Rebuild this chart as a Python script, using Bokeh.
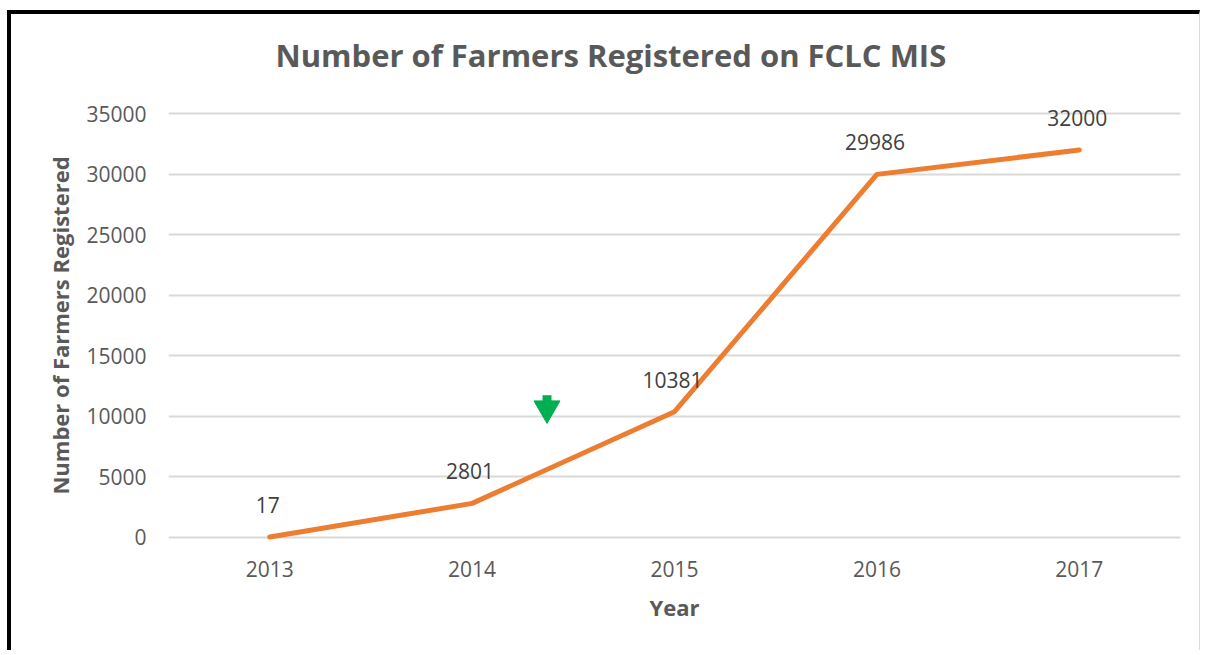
from bokeh.plotting import figure
from bokeh.models import ColumnDataSource, Range1d, FixedTicker, LabelSet
from bokeh.core.properties import value
from bokeh.embed import file_html
from bokeh.resources import INLINE

years = ["2013", "2014", "2015", "2016", "2017"]
farmers = [17, 2801, 10381, 29986, 32000]
y_ticks = [0, 5000, 10000, 15000, 20000, 25000, 30000, 35000]
arrow_x = [1.37]
arrow_y = [10650]
arrow_stem_y = [11450]

idx = list(range(len(years)))
src = ColumnDataSource(dict(x=idx, y=farmers, label=[str(v) for v in farmers]))

p = figure(width=1193, height=640, output_backend="svg", toolbar_location=None,
           x_range=Range1d(-0.5, 4.5), y_range=Range1d(-2000, 37000),
           title="Number of Farmers Registered on FCLC MIS",
           min_border_left=157, min_border_right=24, min_border_top=75, min_border_bottom=93)
p.styles = {"border-top": "4px solid black", "border-left": "4px solid black",
            "border-right": "1px solid #d9d9d9",
            "margin-top": "10px", "margin-left": "7px"}

p.title.align = "left"
p.title.offset = 107
p.title.text_font = "Open Sans"
p.title.text_font_size = "31px"
p.title.text_font_style = "bold"
p.title.text_color = "#595959"
p.title.standoff = 27

p.outline_line_color = None
p.xgrid.grid_line_color = None
p.ygrid.grid_line_color = "#d9d9d9"
p.ygrid.grid_line_width = 2

p.xaxis.ticker = FixedTicker(ticks=idx)
p.xaxis.major_label_overrides = {i: y for i, y in enumerate(years)}
p.yaxis.ticker = FixedTicker(ticks=y_ticks)
for ax in (p.xaxis[0], p.yaxis[0]):
    ax.axis_line_color = None
    ax.major_tick_line_color = None
    ax.minor_tick_line_color = None
    ax.major_label_text_font = "Open Sans"
    ax.major_label_text_font_size = "21px"
    ax.major_label_text_color = "#595959"
    ax.axis_label_text_font = "Open Sans"
    ax.axis_label_text_font_size = "22px"
    ax.axis_label_text_font_style = "bold"
    ax.axis_label_text_color = "#595959"
p.xaxis.axis_label = "Year"
p.yaxis.axis_label = "Number of Farmers Registered"
p.xaxis.major_label_standoff = -7
p.yaxis.major_label_standoff = 16
p.xaxis.axis_label_standoff = 12
p.yaxis.axis_label_standoff = 8

p.line("x", "y", source=src, line_color="#ED7D31", line_width=5, line_cap="round")

labels = LabelSet(x="x", y="y", text="label", source=src, y_offset=32, x_offset=-2,
                  text_align="center", text_baseline="middle",
                  text_font=value("Open Sans"), text_font_size=value("21px"),
                  text_color="#404040")
p.add_layout(labels)

p.scatter(arrow_x, arrow_y, marker="inverted_triangle", size=26, fill_color="#00B050",
          line_color="#00B050")
p.rect(arrow_x, arrow_stem_y, width=9, height=7, width_units="screen", height_units="screen",
       fill_color="#00B050", line_color=None)

open("out.html", "w").write(file_html(p, INLINE))
